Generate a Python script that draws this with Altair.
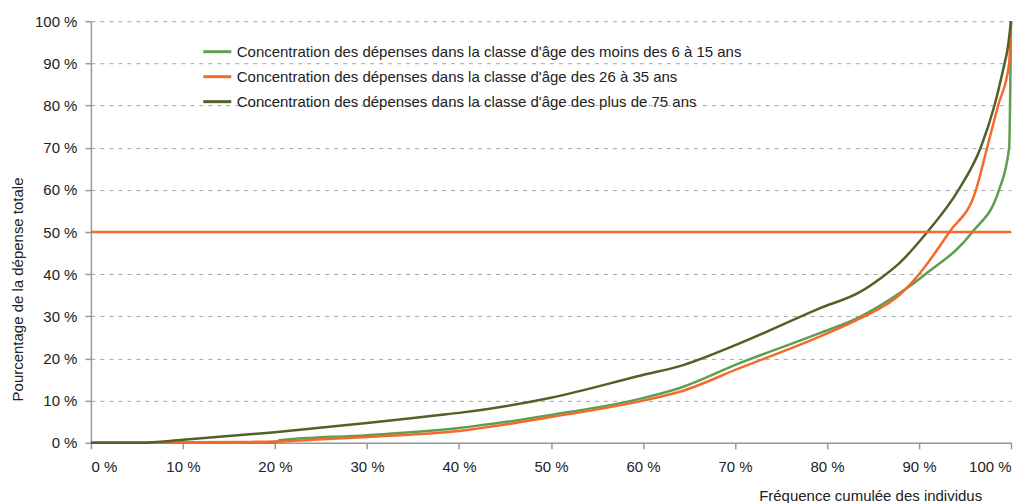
import altair as alt
import pandas as pd

names = [
    "Concentration des dépenses dans la classe d'âge des moins des 6 à 15 ans",
    "Concentration des dépenses dans la classe d'âge des 26 à 35 ans",
    "Concentration des dépenses dans la classe d'âge des plus de 75 ans",
]
colors = ["#5f9e50", "#f5692a", "#4f6228"]

# series 1: 6-15 ans
x_young = [0, 20, 20.5, 30, 40, 50, 60, 64, 70.5, 79.2, 83.6, 87.9, 90.7, 95.8, 98.7, 99.8, 100]
y_young = [0, 0, 0.6, 1.8, 3.5, 6.6, 10.6, 13, 18.9, 26, 29.9, 35.5, 40, 50, 60, 70, 100]
# series 2: 26-35 ans
x_mid = [0, 16.5, 20, 25.6, 30, 40, 50, 60, 64, 70.5, 79.2, 83.6, 87.9, 90, 93.3, 96.2, 97.4, 98.6, 99.8, 100]
y_mid = [0, 0.2, 0.3, 0.9, 1.4, 2.8, 6.1, 10, 12.1, 17.7, 25.2, 29.5, 35.1, 40, 50, 60, 70, 80, 90, 100]
# series 3: plus de 75 ans
x_old = [0, 5.4, 10, 20, 30, 37.9, 40, 50, 60, 64, 70.5, 79.2, 83.6, 85.8, 87.9, 90.9, 94.3, 96.7, 98.2, 99.3, 99.6, 100]
y_old = [0, 0, 0.7, 2.5, 4.7, 6.6, 7.1, 10.7, 16.1, 18.2, 23.6, 31.9, 35.8, 39, 42.7, 50, 60, 70, 80, 90, 93, 100]

ref_x = [0, 100]
ref_y = [50, 50]

rows = []
for n, xs, ys in zip(names, [x_young, x_mid, x_old], [y_young, y_mid, y_old]):
    for i, (a, b) in enumerate(zip(xs, ys)):
        rows.append({"serie": n, "x": a, "y": b, "i": i})
df = pd.DataFrame(rows)
ref = pd.DataFrame({"x": ref_x, "y": ref_y})

FONT = "Liberation Sans, Arial"
FS = 15

xscale = alt.Scale(domain=[0, 100], nice=False, zero=False)
yscale = alt.Scale(domain=[0, 100], nice=False)

xaxis = alt.Axis(
    values=list(range(0, 101, 10)), labelExpr="datum.value + ' %'",
    grid=False, title="Fréquence cumulée des individus",
    titleX=780, titleY=53, titleAnchor="middle", titleAlign="center", titleBaseline="middle",
    tickSize=6, labelPadding=11,
)
yaxis = alt.Axis(
    values=list(range(0, 101, 10)), labelExpr="datum.value + ' %'",
    grid=True, gridDash=[4, 5], gridColor="#a6a6a6", gridWidth=1,
    title="Pourcentage de la dépense totale",
    titleX=-73, titleY=268, titleAngle=-90, titleAlign="center", titleBaseline="middle",
    tickSize=6, labelPadding=8,
)

color = alt.Color(
    "serie:N",
    scale=alt.Scale(domain=names, range=colors),
    legend=alt.Legend(
        title=None, orient="none", legendX=111, legendY=15,
        symbolType="stroke", symbolSize=784, symbolStrokeWidth=3,
        labelLimit=800, rowPadding=1, labelFont=FONT, labelFontSize=FS,
        labelColor="#222222", labelOffset=4,
    ),
)

layers = []
for n in names:
    layers.append(
        alt.Chart(df).transform_filter(alt.datum.serie == n)
        .mark_line(strokeWidth=2.5, interpolate="monotone").encode(
            x=alt.X("x:Q", scale=xscale, axis=xaxis),
            y=alt.Y("y:Q", scale=yscale, axis=yaxis),
            color=color,
            order="i:Q",
        )
    )

refline = alt.Chart(ref).mark_line(color="#f5692a", strokeWidth=2.5).encode(
    x=alt.X("x:Q", scale=xscale),
    y=alt.Y("y:Q", scale=yscale),
)

chart = alt.layer(*layers, refline).properties(
    width=921, height=422,
    padding={"left": 83, "top": 13, "right": 5, "bottom": 60},
    autosize=alt.AutoSizeParams(type="none"),
).configure_view(stroke=None).configure_axis(
    domainColor="#999999", domainWidth=1.5, tickColor="#999999", tickWidth=1.5,
    labelFont=FONT, labelFontSize=FS, labelColor="#222222",
    titleFont=FONT, titleFontSize=FS, titleColor="#222222", titleFontWeight="normal",
)

chart.save("out.html", embed_options={"renderer": "svg", "actions": False})
